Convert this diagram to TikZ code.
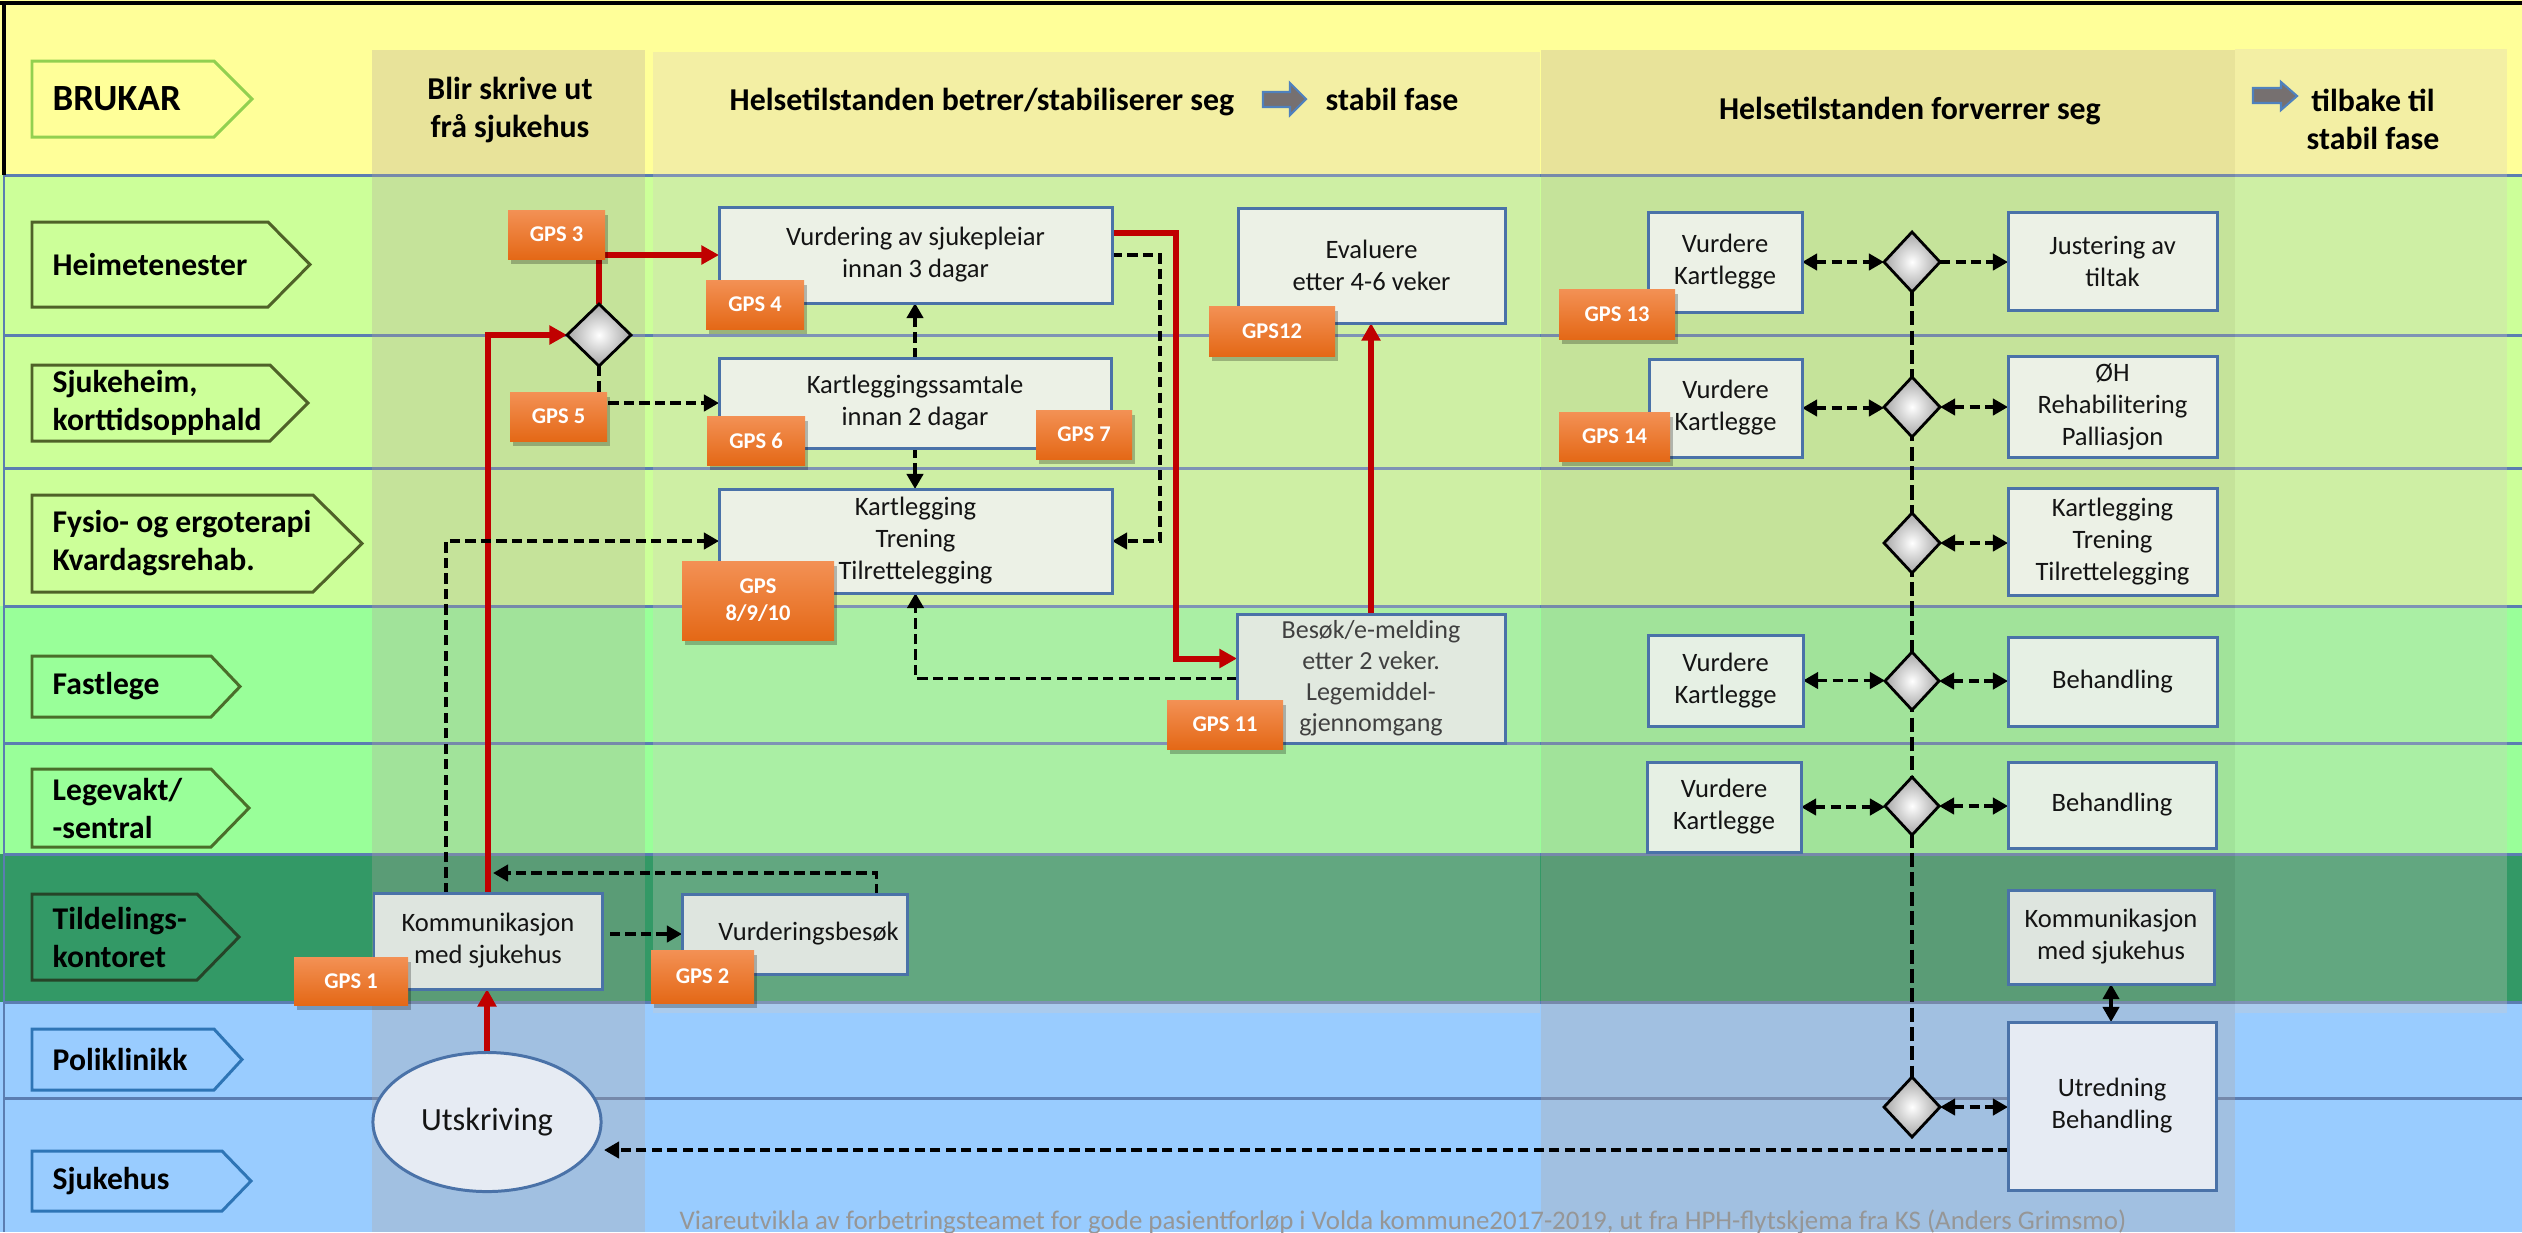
\documentclass[tikz,border=0pt]{standalone}
\usepackage{fontspec}
\setmainfont{Carlito}
\usetikzlibrary{arrows.meta,shapes.geometric,shadows,calc}
\pgfdeclarelayer{back}
\pgfdeclarelayer{conn}
\pgfsetlayers{back,conn,main}

\definecolor{hdr}{RGB}{255,255,153}
\definecolor{lgreen}{RGB}{204,255,153}
\definecolor{mint}{RGB}{153,255,153}
\definecolor{dgreen}{RGB}{51,153,102}
\definecolor{lblue}{RGB}{153,204,255}
\definecolor{lanelinec}{RGB}{91,125,177}
\definecolor{darkov}{RGB}{181,165,157}
\definecolor{lightov}{RGB}{214,203,194}
\definecolor{boxline}{RGB}{74,114,168}
\definecolor{redc}{RGB}{192,0,0}
\definecolor{gpstop}{RGB}{243,145,85}
\definecolor{gpsbot}{RGB}{228,104,22}
\definecolor{boxg}{RGB}{236,241,230}
\definecolor{boxm}{RGB}{230,240,228}
\definecolor{boxd}{RGB}{222,229,223}
\definecolor{boxb}{RGB}{230,235,243}
\definecolor{boxbes}{RGB}{225,233,223}
\definecolor{txt}{RGB}{20,20,20}
\definecolor{besc}{RGB}{64,64,64}
\definecolor{footc}{RGB}{150,150,150}
\definecolor{tagbru}{RGB}{146,208,80}
\definecolor{tagolive}{RGB}{79,98,40}
\definecolor{tagmint}{RGB}{74,110,42}
\definecolor{tagdark}{RGB}{38,68,40}
\definecolor{tagblue}{RGB}{46,117,182}
\definecolor{arrfill}{RGB}{118,112,112}
\definecolor{arrline}{RGB}{79,129,189}

\newcommand\ftBox{\fontsize{7.55pt}{9.1pt}\selectfont}
\newcommand\ftBes{\fontsize{7.4pt}{8.8pt}\selectfont}
\newcommand\ftGps{\fontsize{6.4pt}{7.7pt}\selectfont\bfseries}
\newcommand\ftLane{\fontsize{9pt}{10.8pt}\selectfont\bfseries}
\newcommand\ftHdr{\fontsize{9.05pt}{10.8pt}\selectfont\bfseries}
\newcommand\ftBru{\fontsize{10.5pt}{12pt}\selectfont\bfseries}
\newcommand\ftUts{\fontsize{9.2pt}{10pt}\selectfont}
\newcommand\ftFoot{\fontsize{7.65pt}{8pt}\selectfont}

% #1 style, #2 name, #3 x1, #4 y1, #5 x2, #6 y2, #7 text (pixel units)
\newcommand\mybox[7]{%
  \pgfmathsetmacro\mbw{(#5-#3)*0.01}%
  \pgfmathsetmacro\mbh{(#6-#4)*0.01}%
  \pgfmathsetmacro\mbx{(#3+#5)/2}%
  \pgfmathsetmacro\mby{(#4+#6)/2}%
  \node[#1, minimum width=\mbw cm, minimum height=\mbh cm] (#2) at (\mbx,\mby) {#7};}

% #1 style, #2 name, #3 x1, #4 y1, #5 shoulder x, #6 tip x, #7 y2, #8 text
\newcommand\lanetag[8]{%
  \pgfmathsetmacro\ltm{(#4+#7)/2}%
  \draw[#1] (#3,#4) -- (#5,#4) -- (#6,\ltm) -- (#5,#7) -- (#3,#7) -- cycle;
  \node[lanetext, anchor=west] (#2) at ({#3+20},\ltm) {#8};}

\tikzset{
  pbox/.style={draw=boxline, line width=0.85pt, inner sep=0pt, outer sep=0pt,
    align=center, font=\ftBox, text=txt},
  gps/.style={inner sep=0pt, outer sep=0pt, top color=gpstop, bottom color=gpsbot,
    text=white, font=\ftGps, align=center,
    drop shadow={shadow xshift=0.03cm, shadow yshift=-0.05cm, opacity=0.25, fill=black}},
  diam/.style={diamond, draw=black, line width=0.8pt, inner sep=0pt, outer sep=0pt,
    inner color=white, outer color=black!35},
  lanetext/.style={font=\ftLane, align=left, inner sep=0pt, text=black},
  hdrtext/.style={font=\ftHdr, align=center, inner sep=0pt, text=black},
  laneline/.style={draw=lanelinec, line width=0.85pt},
  tagfill/.style={line width=0.85pt},
  tip/.tip={Triangle[length=4.3pt,width=4.6pt]},
  redarr/.style={draw=redc, line width=1.7pt, -{Triangle[length=5pt,width=5.2pt]}},
  dasharr/.style={draw=black, line width=1.1pt, dash pattern=on 2.9pt off 1.5pt, -tip},
  dashboth/.style={draw=black, line width=1.1pt, dash pattern=on 2.9pt off 1.5pt, tip-tip},
  dashline/.style={draw=black, line width=0.9pt, dash pattern=on 4pt off 1.5pt},
  solidboth/.style={draw=black, line width=1pt, tip-tip},
  blockarr/.style={fill=arrfill, draw=arrline, line width=0.6pt}
}

\begin{document}
\begin{tikzpicture}[x=0.01cm, y=-0.01cm]
\useasboundingbox (0,0) rectangle (2522,1232);

\begin{pgfonlayer}{back}
% lanes
\fill[hdr] (0,0) rectangle (2522,175);
\fill[lgreen] (0,175) rectangle (2522,606);
\fill[mint] (0,606) rectangle (2522,854);
\fill[dgreen] (0,854) rectangle (2522,1002);
\fill[lblue] (0,1002) rectangle (2522,1232);
% lane lines
\foreach \yy in {175,335,468,606,743,854,1002,1098}
  \draw[laneline] (4,\yy) -- (2522,\yy);
\draw[laneline] (4,175) -- (4,1232);
% column overlays
\fill[darkov, opacity=0.3] (372,50) rectangle (645,1232);
\fill[lightov, opacity=0.29] (653,52) rectangle (1540,1013);
\fill[darkov, opacity=0.3] (1541,50) rectangle (2235,1232);
\fill[lightov, opacity=0.29] (2235,49) rectangle (2507,1013);
% frame
\draw[black, line width=1.1pt] (0,3) -- (2522,3);
\draw[black, line width=1.1pt] (4,3) -- (4,175);
\end{pgfonlayer}

% lane tags
\lanetag{tagfill, draw=tagbru, fill=hdr}{tBrukar}{32}{61}{214}{252}{137}{\ftBru BRUKAR}
\lanetag{tagfill, draw=tagolive, fill=lgreen}{tHeime}{32}{222}{268}{310}{307}{Heimetenester}
\lanetag{tagfill, draw=tagolive, fill=lgreen}{tSjuke}{32}{365}{270}{308}{441}{Sjukeheim,\\korttidsopphald}
\lanetag{tagfill, draw=tagolive, fill=lgreen}{tFysio}{32}{495}{313}{362}{592}{Fysio- og ergoterapi\\Kvardagsrehab.}
\lanetag{tagfill, draw=tagmint, fill=mint}{tFast}{32}{656}{211}{240}{717}{Fastlege}
\lanetag{tagfill, draw=tagmint, fill=mint}{tLege}{32}{769}{211}{249}{847}{Legevakt/\\-sentral}
\lanetag{tagfill, draw=tagdark, fill=dgreen}{tTild}{32}{894}{197}{239}{980}{Tildelings-\\kontoret}
\lanetag{tagfill, draw=tagblue, fill=lblue}{tPoli}{32}{1029}{214}{242}{1090}{Poliklinikk}
\lanetag{tagfill, draw=tagblue, fill=lblue}{tSjh}{32}{1151}{222}{251}{1211}{Sjukehus}

% header texts
\node[hdrtext] (hA) at (510,110) {Blir skrive ut\\frå sjukehus};
\node[hdrtext, anchor=base west] (hB) at (729,110) {Helsetilstanden betrer/stabiliserer seg};
\draw[blockarr] (1263,92) -- (1290,92) -- (1290,83) -- (1306,99) -- (1290,115) -- (1290,107) -- (1263,107) -- cycle;
\node[hdrtext, anchor=base west] (hB2) at (1325,110) {stabil fase};
\node[hdrtext, anchor=base] (hC) at (1910,119) {Helsetilstanden forverrer seg};
\draw[blockarr] (2253,88) -- (2281,88) -- (2281,82) -- (2297,96) -- (2281,110) -- (2281,103) -- (2253,103) -- cycle;
\node[hdrtext] (hD) at (2373,119) {tilbake til\\stabil fase};

% column 1
\node[ellipse, draw=boxline, line width=0.85pt, fill=boxb, minimum width=2.28cm,
  minimum height=1.39cm, inner sep=0pt, font=\ftUts, text=txt] (utsk) at (487,1122) {Utskriving};
\mybox{pbox, fill=boxd}{komm1}{374}{893}{602}{989}{Kommunikasjon\\med sjukehus}
\mybox{pbox, fill=boxd}{vb}{682}{894}{907}{974}{\hspace*{8pt}Vurderingsbesøk}
\mybox{diam}{d0}{567}{304}{631}{366}{}

% column 2
\mybox{pbox, fill=boxg}{vurd}{719}{207}{1112}{303}{Vurdering av sjukepleiar\\innan 3 dagar}
\mybox{pbox, fill=boxg}{kst}{719}{358}{1111}{448}{Kartleggingssamtale\\innan 2 dagar}
\mybox{pbox, fill=boxg}{kart2}{719}{489}{1112}{593}{Kartlegging\\Trening\\Tilrettelegging}
\mybox{pbox, fill=boxg}{eval}{1238}{208}{1505}{323}{Evaluere\\etter 4-6 veker}
\mybox{pbox, fill=boxbes, font=\ftBes, text=besc}{besok}{1237}{614}{1505}{743}{Besøk/e-melding\\etter 2 veker.\\Legemiddel-\\gjennomgang}

% column 3
\mybox{pbox, fill=boxg}{v1}{1648}{212}{1802}{312}{Vurdere\\Kartlegge}
\mybox{pbox, fill=boxg}{just}{2008}{212}{2217}{310}{Justering av\\tiltak}
\mybox{pbox, fill=boxg}{v2}{1649}{359}{1802}{457}{Vurdere\\Kartlegge}
\mybox{pbox, fill=boxg}{oh}{2008}{356}{2217}{457}{ØH\\Rehabilitering\\Palliasjon}
\mybox{pbox, fill=boxg}{kart3}{2008}{488}{2217}{595}{Kartlegging\\Trening\\Tilrettelegging}
\mybox{pbox, fill=boxm}{v4}{1648}{635}{1803}{726}{Vurdere\\Kartlegge}
\mybox{pbox, fill=boxm}{beh1}{2008}{637}{2217}{726}{Behandling}
\mybox{pbox, fill=boxm}{v5}{1647}{762}{1801}{852}{Vurdere\\Kartlegge}
\mybox{pbox, fill=boxm}{beh2}{2008}{762}{2216}{848}{Behandling}
\mybox{pbox, fill=boxd}{komm2}{2008}{890}{2214}{984}{Kommunikasjon\\med sjukehus}
\mybox{pbox, fill=boxb}{utred}{2008}{1022}{2216}{1190}{Utredning\\Behandling}
\mybox{diam}{d1}{1884}{232}{1940}{292}{}
\mybox{diam}{d2}{1884}{377}{1940}{437}{}
\mybox{diam}{d3}{1884}{513}{1940}{573}{}
\mybox{diam}{d4}{1885}{652}{1939}{710}{}
\mybox{diam}{d5}{1885}{777}{1939}{835}{}
\mybox{diam}{d6}{1884}{1077}{1940}{1137}{}

% GPS labels
\mybox{gps}{g1}{294}{957}{408}{1005}{GPS 1}
\mybox{gps}{g2}{651}{950}{754}{1003}{GPS 2}
\mybox{gps}{g3}{508}{210}{605}{259}{GPS 3}
\mybox{gps}{g4}{706}{280}{804}{329}{GPS 4}
\mybox{gps}{g5}{510}{392}{607}{441}{GPS 5}
\mybox{gps}{g6}{707}{416}{805}{465}{GPS 6}
\mybox{gps}{g7}{1036}{410}{1132}{459}{GPS 7}
\mybox{gps}{g8}{682}{561}{834}{640}{GPS\\8/9/10}
\mybox{gps}{g11}{1167}{700}{1283}{749}{GPS 11}
\mybox{gps}{g12}{1209}{306}{1335}{356}{GPS12}
\mybox{gps}{g13}{1559}{289}{1675}{339}{GPS 13}
\mybox{gps}{g14}{1559}{412}{1670}{461}{GPS 14}

% footer
\node[font=\ftFoot, text=footc, inner sep=0pt] (foot) at (1403,1222)
  {Viareutvikla av forbetringsteamet for gode pasientforløp i Volda kommune2017-2019, ut fra HPH-flytskjema fra KS (Anders Grimsmo)};

\coordinate (redhit) at (493,873);
\coordinate (utskhit) at (604,1150);

\begin{pgfonlayer}{conn}
% red main flow
\draw[redarr] (utsk.north) -- (utsk.north |- komm1.south);
\draw[redarr] (komm1.north) |- (d0.west);
\draw[redarr] (d0.north) |- (vurd.west);
\draw[redarr] ($(vurd.east)+(0,-22)$) -- ++(64,0) |- ($(besok.west)+(0,-20)$);
\draw[redarr] (besok.north) -- (besok.north |- eval.south);
% dashed flows
\draw[dasharr] (d0.south) |- (kst.west);
\draw[dasharr] ($(komm1.north)+(-42,0)$) |- (kart2.west);
\draw[dasharr] ($(komm1.east |- vb.west)+(8,0)$) -- (vb.west);
\draw[dasharr] ($(vb.north)+(82,0)$) |- (redhit);
\draw[dasharr] (kst.north) -- (kst.north |- vurd.south);
\draw[dasharr] (kst.south) -- (kst.south |- kart2.north);
\draw[dasharr] (vurd.east) -- ++(48,0) |- (kart2.east);
\draw[dasharr] (besok.west) -| (kart2.south);
% column 3
\draw[dashline] (d1.south) -- (d6.north);
\draw[dashboth] (v1.east) -- (v1.east -| d1.west);
\draw[dasharr] (d1.east) -- (d1.east -| just.west);
\draw[dashboth] (v2.east) -- (v2.east -| d2.west);
\draw[dashboth] (d2.east) -- (d2.east -| oh.west);
\draw[dashboth] (d3.east) -- (d3.east -| kart3.west);
\draw[dashboth] (v4.east) -- (v4.east -| d4.west);
\draw[dashboth] (d4.east) -- (d4.east -| beh1.west);
\draw[dashboth] (v5.east) -- (v5.east -| d5.west);
\draw[dashboth] (d5.east) -- (d5.east -| beh2.west);
\draw[solidboth] (komm2.south) -- (komm2.south |- utred.north);
\draw[dashboth] (d6.east) -- (d6.east -| utred.west);
\draw[dasharr] ($(utred.west)+(0,44)$) -- (utskhit);
\end{pgfonlayer}
\end{tikzpicture}
\end{document}
